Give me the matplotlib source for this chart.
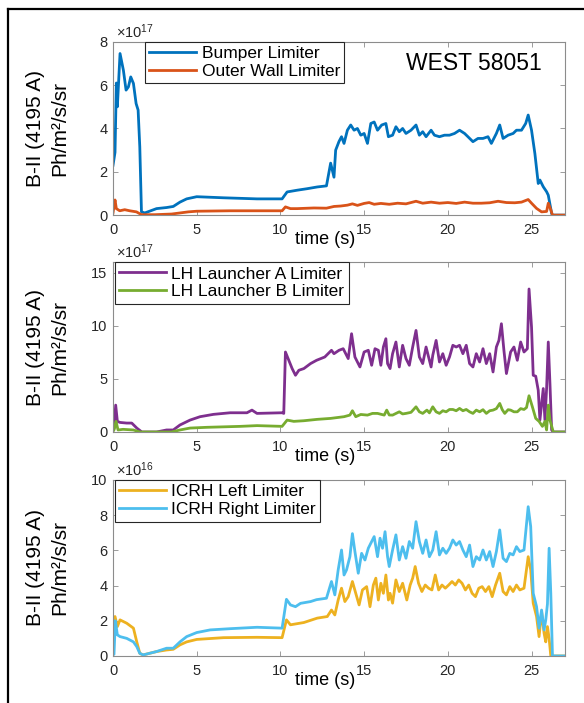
import matplotlib
matplotlib.use("Agg")
import matplotlib.pyplot as plt
from matplotlib.lines import Line2D

plt.rcParams['font.family'] = ['Liberation Sans', 'DejaVu Sans']
plt.rcParams['mathtext.fontset'] = 'custom'
plt.rcParams['mathtext.rm'] = 'Liberation Sans'

# ---- panel 1 (x1e17) ----
t_bumper = [0, 0.12, 0.2, 0.26, 0.42, 0.62, 0.78, 0.92, 1.06, 1.22, 1.38, 1.5, 1.6, 1.7, 1.9,
            2.6, 3.2, 3.6, 4.0, 4.4, 5.0, 6.6, 8.6, 10.1, 10.4, 11.0, 11.6, 12.2, 12.75, 13.0,
            13.2, 13.3, 13.5, 13.65, 13.8, 14.0, 14.2, 14.4, 14.6, 14.8, 15.0, 15.2, 15.4, 15.6,
            15.8, 16.05, 16.3, 16.45, 16.7, 16.9, 17.1, 17.3, 17.5, 17.8, 18.1, 18.3, 18.5, 18.7,
            19.0, 19.2, 19.5, 19.8, 20.1, 20.4, 20.7, 21.0, 21.2, 21.5, 21.8, 22.1, 22.4, 22.6,
            22.9, 23.1, 23.3, 23.6, 23.9, 24.1, 24.4, 24.65, 24.8, 25.0, 25.2, 25.4, 25.5, 25.7,
            25.9, 26.0, 26.2, 26.25, 27.0]
v_bumper = [2.3, 2.9, 6.1, 5.0, 7.46, 6.69, 5.77, 5.92, 6.38, 6.08, 5.15, 4.85, 3.15, 0.15, 0.1,
            0.3, 0.35, 0.4, 0.6, 0.75, 0.85, 0.8, 0.75, 0.75, 1.07, 1.15, 1.22, 1.3, 1.35, 2.4,
            1.75, 3.0, 3.4, 3.62, 3.31, 3.92, 4.16, 3.92, 4.0, 3.69, 3.77, 3.31, 4.23, 4.3,
            3.92, 4.16, 4.23, 3.62, 3.69, 4.08, 3.85, 4.0, 3.77, 3.92, 4.16, 3.69, 3.85, 3.62,
            3.92, 3.69, 3.62, 3.69, 3.69, 3.77, 3.92, 3.77, 3.62, 3.39, 3.54, 3.54, 3.62, 3.31,
            3.77, 4.16, 3.54, 3.69, 3.77, 3.92, 3.92, 4.23, 4.62, 3.92, 2.84, 1.46, 1.62, 1.31,
            1.08, 0.92, 0.08, 0.0, 0.0]

t_outer = [0, 0.12, 0.2, 0.4, 0.7, 1.0, 1.4, 1.7, 2.5, 3.5, 4.5, 5.0, 7.0, 10.1, 10.3, 10.6,
           11.0, 12.0, 12.75, 13.2, 13.6, 14.0, 14.3, 14.6, 15.0, 15.3, 15.6, 16.0, 16.5, 17.0,
           17.5, 18.1, 18.5, 19.0, 19.5, 20.0, 20.5, 21.0, 21.5, 22.0, 22.5, 23.0, 23.5, 24.0,
           24.4, 24.8, 25.0, 25.3, 25.6, 25.9, 26.0, 26.15, 26.25, 27.0]
v_outer = [0.1, 0.7, 0.3, 0.2, 0.25, 0.2, 0.15, 0.02, 0.02, 0.05, 0.15, 0.18, 0.2, 0.2, 0.38, 0.3,
           0.3, 0.33, 0.32, 0.4, 0.42, 0.46, 0.52, 0.45, 0.54, 0.58, 0.5, 0.54, 0.5, 0.55,
           0.52, 0.64, 0.55, 0.6, 0.55, 0.58, 0.54, 0.6, 0.55, 0.55, 0.57, 0.64, 0.58, 0.57,
           0.6, 0.72, 0.55, 0.31, 0.15, 0.17, 0.55, 0.25, 0.0, 0.0]

# ---- panel 2 (x1e17) ----
t_lha = [0, 0.06, 0.16, 0.26, 0.42, 0.82, 1.12, 1.42, 1.72, 2.6, 3.2, 3.6, 4.0, 4.6, 5.2, 6.0,
         7.0, 8.0, 8.3, 8.6, 10.1, 10.2, 10.3, 10.5, 10.7, 10.9, 11.1, 11.4, 11.8, 12.16, 12.65,
         13.05, 13.2, 13.5, 13.75, 14.05, 14.25, 14.45, 14.75, 15.0, 15.25, 15.45, 15.65, 15.85,
         16.0, 16.15, 16.3, 16.4, 16.55, 16.7, 16.9, 17.1, 17.3, 17.5, 17.7, 17.9, 18.1, 18.3,
         18.5, 18.7, 19.0, 19.1, 19.3, 19.5, 19.7, 19.9, 20.1, 20.3, 20.5, 20.7, 20.9, 21.1,
         21.3, 21.5, 21.7, 21.9, 22.1, 22.3, 22.5, 22.7, 22.9, 23.05, 23.2, 23.35, 23.5, 23.75,
         23.95, 24.15, 24.35, 24.55, 24.75, 24.85, 25.0, 25.1, 25.25, 25.4, 25.5, 25.7, 25.8,
         25.9, 26.0, 26.1, 26.2, 26.3, 27.0]
v_lha = [0.2, 0.3, 2.53, 1.0, 0.9, 0.84, 0.84, 0.37, 0.0, 0.0, 0.19, 0.19, 0.66, 1.12, 1.44, 1.66,
         1.81, 1.81, 2.06, 1.75, 1.81, 1.75, 7.53, 6.75, 5.97, 5.34, 5.81, 5.97, 6.44, 6.75, 7.06,
         7.69, 7.37, 7.69, 7.84, 6.91, 9.25, 7.06, 6.12, 7.53, 7.69, 6.28, 7.84, 7.69,
         6.28, 8.0, 8.78, 6.44, 5.97, 7.37, 8.47, 6.12, 8.16, 6.91, 6.28, 8.0, 9.56, 7.06,
         6.44, 8.0, 6.12, 7.22, 8.62, 6.59, 7.37, 6.28, 7.06, 8.16, 8.0, 8.16, 7.37, 8.16,
         6.44, 6.12, 7.37, 6.59, 7.84, 6.44, 7.37, 5.65, 8.0, 8.62, 10.19, 7.69, 5.5, 7.53,
         8.0, 6.75, 8.47, 7.53, 7.84, 13.46, 9.87, 5.34, 5.25, 3.93, 1.12, 4.09, 1.12,
         4.09, 8.47, 4.56, 0.19, 0.0, 0.0]

t_lhb = [0, 0.06, 0.18, 0.3, 0.6, 1.22, 1.6, 2.5, 3.5, 4.0, 4.6, 5.6, 7.6, 8.6, 10.1, 10.4, 10.8,
         11.4, 12.2, 13.0, 13.5, 13.8, 14.15, 14.3, 14.5, 14.8, 15.2, 15.5, 15.8, 16.2, 16.35,
         16.5, 16.7, 17.1, 17.3, 17.5, 17.8, 18.1, 18.3, 18.5, 18.75, 18.9, 19.1, 19.3, 19.5,
         19.7, 19.9, 20.1, 20.3, 20.5, 20.7, 20.9, 21.1, 21.3, 21.5, 21.7, 21.9, 22.1, 22.3,
         22.5, 22.7, 22.9, 23.1, 23.25, 23.4, 23.6, 23.75, 23.95, 24.15, 24.35, 24.55, 24.7,
         24.85, 25.05, 25.25, 25.45, 25.65, 25.8, 25.9, 26.0, 26.1, 26.3, 27.0]
v_lhb = [0.06, 0.2, 1.0, 0.19, 0.25, 0.19, 0.0, 0.0, 0.0, 0.19, 0.37, 0.44, 0.53, 0.6, 0.53, 1.12, 1.0,
         1.06, 1.19, 1.28, 1.38, 1.44, 1.59, 2.0, 1.44, 1.65, 1.59, 1.75, 1.75, 1.59, 2.06,
         1.6, 1.59, 1.9, 1.7, 1.75, 1.85, 2.37, 1.9, 1.75, 2.06, 1.8, 2.37, 1.9, 1.75,
         2.0, 1.9, 2.12, 2.12, 2.0, 2.22, 2.0, 2.12, 1.9, 1.75, 2.06, 1.9, 2.1, 1.75,
         2.0, 2.06, 2.2, 2.69, 2.1, 1.75, 2.1, 2.06, 1.9, 1.9, 2.2, 2.12, 2.3,
         3.41, 2.37, 1.28, 1.0, 0.53, 1.0, 0.19, 2.53, 1.12, 0.0, 0.0]

# ---- panel 3 (x1e16) ----
t_left = [0, 0.12, 0.26, 0.42, 0.82, 1.22, 1.42, 1.6, 1.8, 2.6, 3.2, 3.6, 4.0, 4.4, 5.0, 6.6, 8.6,
          10.1, 10.36, 10.6, 11.4, 12.2, 12.8, 13.05, 13.25, 13.45, 13.65, 13.85, 14.05, 14.3,
          14.5, 14.7, 14.9, 15.15, 15.35, 15.55, 15.7, 15.85, 16.0, 16.15, 16.3, 16.45, 16.55,
          16.7, 16.9, 17.1, 17.3, 17.55, 17.75, 17.9, 18.05, 18.25, 18.45, 18.65, 18.85, 19.05,
          19.25, 19.45, 19.65, 19.85, 20.05, 20.25, 20.45, 20.65, 20.85, 21.05, 21.25, 21.45,
          21.65, 21.85, 22.05, 22.25, 22.45, 22.65, 22.85, 23.1, 23.3, 23.5, 23.7, 23.9, 24.1,
          24.3, 24.55, 24.8, 24.95, 25.1, 25.3, 25.45, 25.6, 25.75, 25.85, 25.95, 26.05, 26.15,
          27.0]
v_left = [1.9, 2.24, 1.67, 2.05, 1.86, 1.58, 0.8, 0.15, 0.06, 0.25, 0.34, 0.38, 0.63, 0.8, 0.94, 1.04, 1.06,
          1.04, 2.05, 1.77, 1.9, 2.15, 2.24, 2.61, 2.33, 3.18, 3.85, 3.09, 3.37, 4.23,
          3.56, 2.9, 3.75, 3.94, 2.8, 4.03, 4.42, 3.18, 4.13, 3.56, 4.6, 3.18, 3.56,
          3.0, 4.32, 3.66, 4.13, 3.18, 4.03, 4.42, 5.08, 4.13, 3.66, 4.03, 3.85, 3.75,
          4.6, 3.75, 4.03, 3.85, 4.03, 4.23, 4.03, 4.32, 4.13, 3.75, 4.03, 3.56,
          3.37, 3.85, 3.94, 3.66, 3.94, 3.37, 4.03, 4.7, 3.66, 3.47, 3.94, 3.66, 4.03,
          3.75, 3.85, 5.64, 4.89, 3.0, 2.24, 1.1, 2.52, 1.29, 0.8, 1.67, 1.0, 0.0,
          0.0]

t_right = [0, 0.06, 0.14, 0.26, 0.42, 0.82, 1.22, 1.42, 1.6, 1.8, 2.6, 3.2, 3.6, 4.0, 4.4, 5.0,
           5.8, 7.0, 8.6, 10.1, 10.36, 10.6, 10.9, 11.2, 11.8, 12.16, 12.75, 13.05, 13.25, 13.45,
           13.65, 13.8, 13.95, 14.15, 14.3, 14.45, 14.65, 14.85, 15.05, 15.25, 15.45, 15.6, 15.8,
           15.95, 16.1, 16.25, 16.4, 16.5, 16.7, 16.9, 17.1, 17.3, 17.5, 17.7, 17.9, 18.1, 18.3,
           18.5, 18.7, 18.9, 19.1, 19.3, 19.5, 19.7, 19.9, 20.1, 20.3, 20.5, 20.7, 20.9, 21.1,
           21.3, 21.5, 21.7, 21.9, 22.1, 22.3, 22.5, 22.7, 22.9, 23.1, 23.3, 23.5, 23.7, 23.9,
           24.1, 24.3, 24.55, 24.8, 24.95, 25.1, 25.3, 25.45, 25.6, 25.75, 25.85, 25.95, 26.05,
           26.15, 26.25, 27.0]
v_right = [0.06, 0.1, 2.0, 1.2, 1.1, 1.0, 0.8, 0.53, 0.15, 0.06, 0.25, 0.44, 0.44, 0.8, 1.1, 1.33,
           1.48, 1.55, 1.63, 1.58, 3.22, 2.9, 2.8, 2.99, 3.09, 3.2, 3.28, 4.23, 3.47, 4.89,
           6.02, 4.6, 4.89, 5.64, 6.95, 5.93, 4.7, 5.83, 5.45, 6.12, 6.5, 6.78, 5.64,
           6.69, 6.12, 7.06, 5.64, 5.08, 6.02, 6.88, 5.45, 6.21, 5.55, 6.5, 6.12, 7.63, 6.5,
           5.83, 6.59, 5.64, 6.02, 7.06, 5.74, 6.12, 5.83, 6.12, 6.59, 6.3, 6.5, 6.02, 5.64,
           6.3, 5.08, 5.64, 5.45, 6.02, 5.45, 5.93, 5.08, 5.93, 7.16, 5.55, 5.36, 5.83, 5.74,
           6.21, 5.93, 6.02, 8.48, 7.35, 3.56, 2.8, 1.58, 2.61, 1.48, 2.05, 2.95, 6.12,
           3.56, 0.0, 0.0]

xticks = [0, 5, 10, 15, 20, 25]
ylabel_text = "B-II (4195 A)\nPh/m\u00b2/s/sr"

blue = '#0072BD'
orange = '#D95319'
yellow = '#EDB120'
purple = '#7E2F8E'
green = '#77AC30'
lightblue = '#4DBEEE'
axcol = '#8c8c8c'
txtcol = '#262626'

fig = plt.figure(figsize=(5.84, 7.03), dpi=100)

boxes = [
    [0.1935, 0.694, 0.774, 0.2465],
    [0.1935, 0.3855, 0.774, 0.2418],
    [0.1935, 0.0669, 0.774, 0.2504],
]
axes = [fig.add_axes(b) for b in boxes]

ax1, ax2, ax3 = axes
ax1.plot(t_bumper, v_bumper, color=blue, lw=2, label='Bumper Limiter')
ax1.plot(t_outer, v_outer, color=orange, lw=2, label='Outer Wall Limiter')
ax1.set_ylim(0, 8)
ax1.set_yticks([0, 2, 4, 6, 8])

ax2.plot(t_lha, v_lha, color=purple, lw=2, label='LH Launcher A Limiter')
ax2.plot(t_lhb, v_lhb, color=green, lw=2, label='LH Launcher B Limiter')
ax2.set_ylim(0, 16)
ax2.set_yticks([0, 5, 10, 15])

ax3.plot(t_left, v_left, color=yellow, lw=2, label='ICRH Left Limiter')
ax3.plot(t_right, v_right, color=lightblue, lw=2, label='ICRH Right Limiter')
ax3.set_ylim(0, 10)
ax3.set_yticks([0, 2, 4, 6, 8, 10])

exps = ['17', '17', '16']
leg_x = [0.071, 0.004, 0.004]
for ax, e, lx, b in zip(axes, exps, leg_x, boxes):
    ax.set_xlim(0, 27)
    ax.set_xticks(xticks)
    ax.tick_params(direction='in', top=True, right=True, length=3.5, width=0.6,
                   color=axcol, labelsize=10.5, labelcolor=txtcol, pad=4)
    ax.tick_params(axis='x', pad=6)
    for s in ax.spines.values():
        s.set_color(axcol)
        s.set_linewidth(0.8)
    ax.text(0.006, 1.005, r'$\times\mathregular{10^{%s}}$' % e, transform=ax.transAxes,
            ha='left', va='bottom', fontsize=10.5, color=txtcol)
    ax.set_xlabel('time (s)', fontsize=13, color='black')
    ax.xaxis.set_label_coords(0.469, -16 / (b[3] * 703))
    leg = ax.legend(loc='upper left', bbox_to_anchor=(lx, 1.0), borderaxespad=0,
                    fontsize=12.5, fancybox=False, edgecolor=txtcol, framealpha=1,
                    handlelength=2.7, handletextpad=0.3, labelspacing=0.15, borderpad=0.25)
    leg.get_frame().set_linewidth(0.8)
    fig.text(0.082, b[1] + b[3] / 2, ylabel_text, rotation=90, ha='center', va='center',
             fontsize=15, linespacing=1.35, multialignment='center')

ax1.text(0.949, 0.877, 'WEST 58051', transform=ax1.transAxes, ha='right', va='center',
         fontsize=16.5)

# frame around the figure
fig.add_artist(Line2D([0.0137, 1.0], [0.987, 0.987], transform=fig.transFigure,
                      color='black', lw=1.6))
fig.add_artist(Line2D([0.0137, 0.0137], [0.0, 0.987], transform=fig.transFigure,
                      color='black', lw=1.6))

fig.savefig('out.png', dpi=100)
